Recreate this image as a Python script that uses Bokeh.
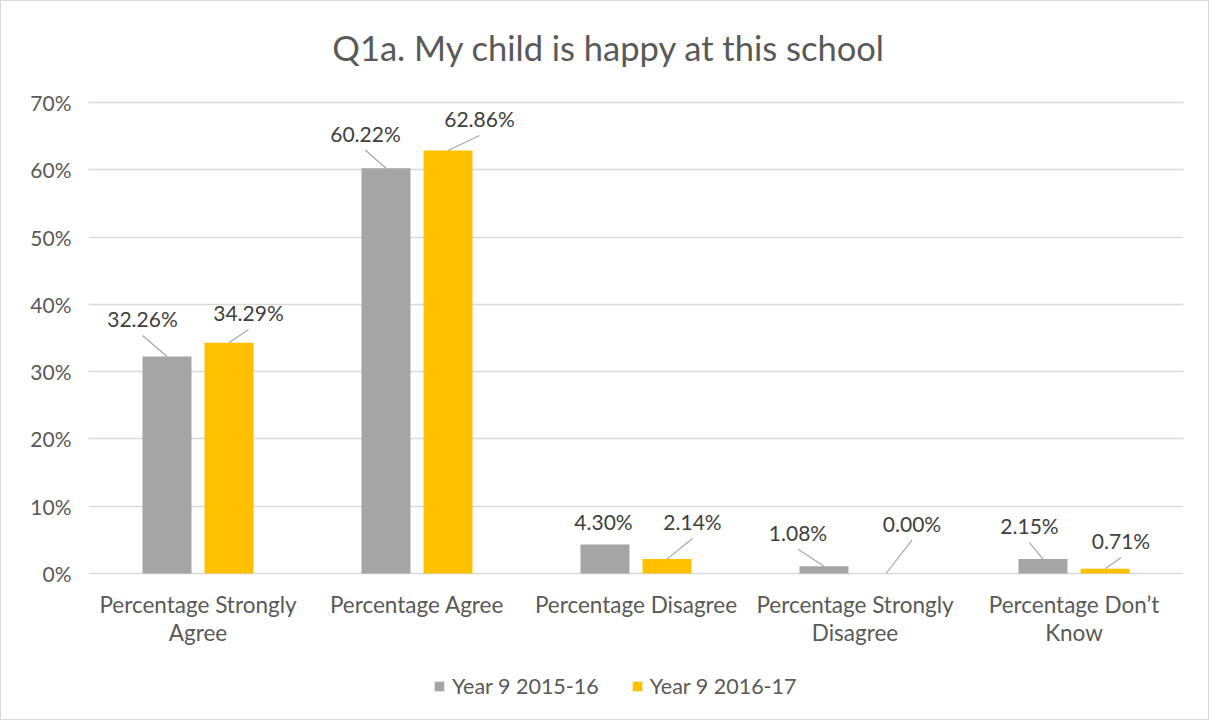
from bokeh.plotting import figure
from bokeh.models import Range1d, FixedTicker, PrintfTickFormatter, Legend, LegendItem, Label, ColumnDataSource
from bokeh.embed import file_html
from bokeh.resources import INLINE

# ---------------- data ----------------
chart_title = "Q1a. My child is happy at this school"
categories = ["Percentage Strongly Agree", "Percentage Agree", "Percentage Disagree",
              "Percentage Strongly Disagree", "Percentage Don\u2019t Know"]
category_labels = ["Percentage Strongly\nAgree", "Percentage Agree", "Percentage Disagree",
                   "Percentage Strongly\nDisagree", "Percentage Don\u2019t\nKnow"]
series_names = ["Year 9 2015-16", "Year 9 2016-17"]
year_2015_16 = [32.26, 60.22, 4.30, 1.08, 2.15]
year_2016_17 = [34.29, 62.86, 2.14, 0.00, 0.71]
y_ticks = [0, 10, 20, 30, 40, 50, 60, 70]

# ---------------- layout / style ----------------
LEFT, RIGHT = 87, 25            # canvas px left / right of the plotting area
PLOT_TOP, PLOT_BOTTOM = 101, 572  # canvas px of the 70% and 0% lines
CANVAS_H = 718
FRAME_W = 1095
PX_X = FRAME_W / len(categories)                 # px per category
PX_Y = (PLOT_BOTTOM - PLOT_TOP) / 70.0           # px per percent
Y_MIN = -(CANVAS_H - PLOT_BOTTOM) / PX_Y
Y_MAX = 70 + PLOT_TOP / PX_Y
BAR_W = 0.2237
DODGE = 0.1416
FONT = "Lato"
TXT = "#595959"
GRID = "#D9D9D9"
COLORS = ["#A5A5A5", "#FFC000"]
# data-label offsets from bar top (px, screen: +x right, +y down) and whether a leader line is drawn
label_offsets = [
    [(-24.5, -38), (-20.5, -35), (-1.5, -23), (-26, -34), (-13.5, -33.5)],
    [(19.5, -30.3), (31.5, -32), (25.5, -37.6), (26, -50.3), (16, -28)],
]
leaders = [[True, True, False, True, True], [True, True, True, True, True]]
LEADER_GAP = 17
CAT_LABEL_GAP = 17        # px from the 0% line to the top of the category labels
TITLE_CX, TITLE_CY = 607.5, 46   # canvas px
LEGEND_POS = (345, 20)    # px from the plotting frame's bottom-left corner

p = figure(frame_width=FRAME_W, frame_height=CANVAS_H, output_backend="svg", toolbar_location=None,
           x_range=Range1d(-0.5, len(categories) - 0.5), y_range=Range1d(Y_MIN, Y_MAX),
           min_border_left=LEFT, min_border_right=RIGHT, min_border_top=0, min_border_bottom=0,
           background_fill_color="white", border_fill_color="white", outline_line_color=None)

series = [year_2015_16, year_2016_17]
renderers = []
for s, vals in enumerate(series):
    off = -DODGE if s == 0 else DODGE
    xs = [i + off for i in range(len(categories))]
    src = ColumnDataSource(dict(x=xs, top=vals))
    r = p.vbar(x="x", top="top", bottom=0, width=BAR_W, source=src, fill_color=COLORS[s], line_color=None)
    renderers.append(r)
    lx, ly, txt, sx0, sy0, sx1, sy1 = [], [], [], [], [], [], []
    for i, v in enumerate(vals):
        dx, dy = label_offsets[s][i]
        lx.append(xs[i] + dx / PX_X)
        ly.append(v - dy / PX_Y)
        txt.append(f"{v:.2f}%")
        if leaders[s][i]:
            sx0.append(xs[i]); sy0.append(v)
            sx1.append(xs[i] + dx / PX_X); sy1.append(v - (dy + LEADER_GAP) / PX_Y)
    p.segment(x0=sx0, y0=sy0, x1=sx1, y1=sy1, line_color="#A6A6A6", line_width=1.2)
    lsrc = ColumnDataSource(dict(x=lx, y=ly, t=txt))
    p.text(x="x", y="y", text="t", source=lsrc, text_align="center", text_baseline="middle",
           text_font={"value": FONT}, text_font_size="21px", text_color="#404040")

# category labels (drawn under the 0% line)
csrc = ColumnDataSource(dict(x=list(range(len(categories))),
                             y=[-CAT_LABEL_GAP / PX_Y] * len(categories),
                             t=category_labels))
p.text(x="x", y="y", text="t", source=csrc, text_align="center", text_baseline="top",
       text_font={"value": FONT}, text_font_size="22.5px", text_line_height=1.07, text_color=TXT)

# axes
p.xaxis.visible = False
p.yaxis.ticker = FixedTicker(ticks=y_ticks)
p.yaxis.formatter = PrintfTickFormatter(format="%d%%")
p.yaxis.major_tick_line_color = None
p.yaxis.minor_tick_line_color = None
p.yaxis.major_tick_out = 0
p.yaxis.major_tick_in = 0
p.yaxis.axis_line_color = None
p.yaxis.major_label_standoff = 17
p.yaxis.major_label_text_font = FONT
p.yaxis.major_label_text_font_size = "21px"
p.yaxis.major_label_text_color = TXT

p.xgrid.grid_line_color = None
p.ygrid.grid_line_color = GRID
p.ygrid.grid_line_width = 1.3

# title
p.add_layout(Label(x=(TITLE_CX - LEFT) / PX_X - 0.5, y=70 + (PLOT_TOP - TITLE_CY) / PX_Y,
                   text=chart_title, text_align="center", text_baseline="middle",
                   text_font=FONT, text_font_size="34.5px", text_color=TXT))

legend = Legend(items=[LegendItem(label=series_names[k], renderers=[renderers[k]]) for k in range(2)],
                orientation="horizontal", location=LEGEND_POS, glyph_width=12, glyph_height=12,
                label_standoff=7, spacing=32, label_text_font=FONT, label_text_font_size="21.5px",
                label_text_color=TXT, border_line_color=None, background_fill_alpha=0,
                padding=0, margin=0)
p.add_layout(legend, "center")
p.styles = {"border": "1px solid #D9D9D9"}

open("out.html", "w").write(file_html(p, INLINE))
